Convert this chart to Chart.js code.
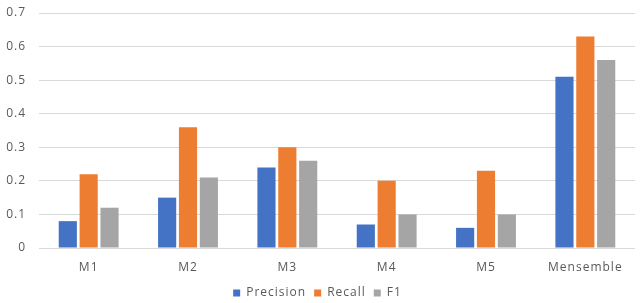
<!DOCTYPE html>
<html>
<head>
<meta charset="utf-8">
<script src="https://cdn.jsdelivr.net/npm/chart.js@4/dist/chart.umd.min.js"></script>
<style>
html,body{margin:0;padding:0;background:#fff;}
#wrap{width:640px;height:303px;position:relative;}
</style>
</head>
<body>
<div id="wrap"><canvas id="c" width="640" height="303"></canvas></div>
<script>
const categories = ["M1", "M2", "M3", "M4", "M5", "Mensemble"];
const precision = [0.08, 0.15, 0.24, 0.07, 0.06, 0.51];
const recall = [0.22, 0.36, 0.30, 0.20, 0.23, 0.63];
const f1 = [0.12, 0.21, 0.26, 0.10, 0.10, 0.56];
const yTicks = [0, 0.1, 0.2, 0.3, 0.4, 0.5, 0.6, 0.7];

const FONT = "'Open Sans', sans-serif";
const TXT = "#595959";
const PLOT_TOP = 13;

const tweaks = {
  id: 'tweaks',
  beforeInit(chart) { chart.ctx.letterSpacing = '1px'; },
  afterInit(chart) {
    const lg = chart.legend;
    if (lg) {
      const orig = lg.fit;
      lg.fit = function () { orig.call(this); this.height = 24; };
    }
  },
  beforeUpdate(chart) { chart.ctx.letterSpacing = '1px'; },
  afterLayout(chart) {
    const a = chart.chartArea;
    a.top = PLOT_TOP;
    a.height = a.bottom - a.top;
    const y = chart.scales.y;
    y.top = PLOT_TOP;
    y.height = y.bottom - y.top;
    y.configure();
  },
  beforeDraw(chart) { chart.ctx.letterSpacing = '1px'; }
};

new Chart(document.getElementById('c'), {
  type: 'bar',
  data: {
    labels: categories,
    datasets: [
      {label: 'Precision', data: precision, backgroundColor: '#4472C4'},
      {label: 'Recall', data: recall, backgroundColor: '#ED7D31'},
      {label: 'F1', data: f1, backgroundColor: '#A5A5A5'}
    ]
  },
  plugins: [tweaks],
  options: {
    responsive: false,
    animation: false,
    devicePixelRatio: 1,
    layout: {autoPadding: false, padding: {top: 6, right: 5, left: 0, bottom: 0}},
    datasets: {bar: {categoryPercentage: 0.63, barPercentage: 0.87}},
    plugins: {
      tooltip: {enabled: false},
      legend: {
        position: 'bottom',
        labels: {
          boxWidth: 7, boxHeight: 7, padding: 8,
          color: TXT, font: {family: FONT, size: 12}
        }
      }
    },
    scales: {
      x: {
        grid: {display: false, drawTicks: false},
        border: {display: false},
        afterFit: (s) => { s.height = 31; },
        ticks: {color: TXT, font: {family: FONT, size: 12}, padding: 12, maxRotation: 0}
      },
      y: {
        min: 0, max: 0.7,
        afterBuildTicks: (s) => { s.ticks = yTicks.map(v => ({value: v})); },
        afterFit: (s) => { s.width = 39; },
        grid: {color: '#d9d9d9', drawTicks: false, lineWidth: 1},
        border: {display: false},
        ticks: {
          color: TXT, font: {family: FONT, size: 12}, padding: 13,
          callback: (v) => (v === 0 ? '0' : v.toFixed(1))
        }
      }
    }
  }
});
</script>
</body>
</html>
